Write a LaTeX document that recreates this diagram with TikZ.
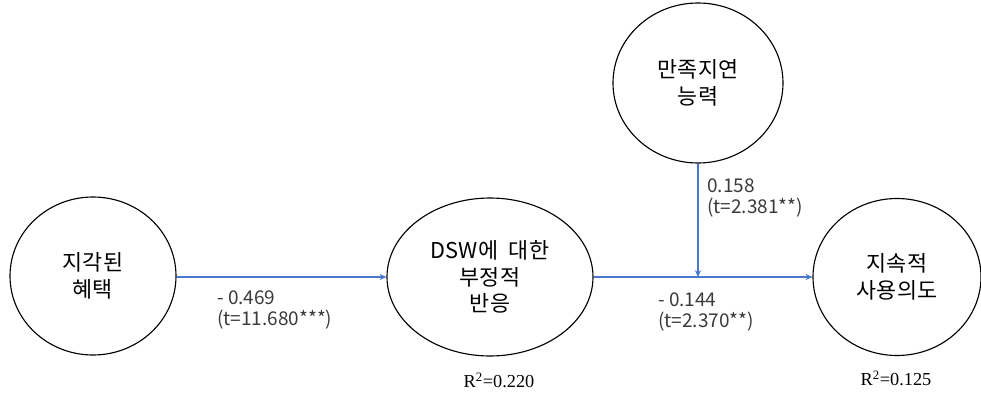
\documentclass[tikz,border=0pt]{standalone}
\usepackage{fontspec}
\setmainfont{Noto Sans CJK KR}
\newfontfamily\serifnum{Liberation Serif}
\usepackage{xcolor}
\usepackage{tikz}
\usetikzlibrary{shapes,arrows,positioning,calc,arrows.meta}
\definecolor{pathblue}{HTML}{4A78CC}
\definecolor{labelgray}{HTML}{3A3A3A}

\begin{document}
\begin{tikzpicture}[
    construct/.style={ellipse, draw, line width=0.8pt, inner sep=0pt, align=center,
        font=\fontsize{15.5}{19}\selectfont},
    coef/.style={anchor=west, align=left, inner sep=0pt, text=labelgray,
        font=\fontsize{13.5}{15}\selectfont},
    rsq/.style={inner sep=0pt, font=\serifnum\fontsize{13}{15}\selectfont},
    arrow/.style={line width=0.9pt, draw=pathblue, -{Stealth[length=1.7mm,width=1.5mm]}}
]
    \useasboundingbox (0,0) rectangle (24.525,9.8);

    \node[construct, minimum width=4.15cm, minimum height=3.95cm] (B) at (2.325, 2.9) {지각된\\혜택};
    \node[construct, minimum width=5.15cm, minimum height=3.95cm] (D) at (12.25, 2.875) {DSW에\hspace{0.5em}대한\\부정적\\반응};
    \node[construct, minimum width=4.25cm, minimum height=4.0cm] (G) at (17.45, 7.725) {만족지연\\능력};
    \node[construct, minimum width=4.2cm, minimum height=3.925cm] (U) at (22.425, 2.875) {지속적\\사용의도};
    \coordinate (J) at (G |- D);

    \draw[arrow] (B.east |- D) -- (D);
    \draw[arrow] (D) -- (U);
    \draw[arrow] (G) -- (J);

    \node[coef] (BD) at (5.425, 2.04) {- 0.469\\(t=11.680***)};
    \node[coef] (DU) at (16.45, 2.0) {- 0.144\\(t=2.370**)};
    \node[coef] (GJ) at (17.675, 4.86) {0.158\\(t=2.381**)};

    \node[rsq] (RD) at (12.475, 0.3) {R\textsuperscript{2}=0.220};
    \node[rsq] (RU) at (22.4, 0.35) {R\textsuperscript{2}=0.125};

\end{tikzpicture}
\end{document}
